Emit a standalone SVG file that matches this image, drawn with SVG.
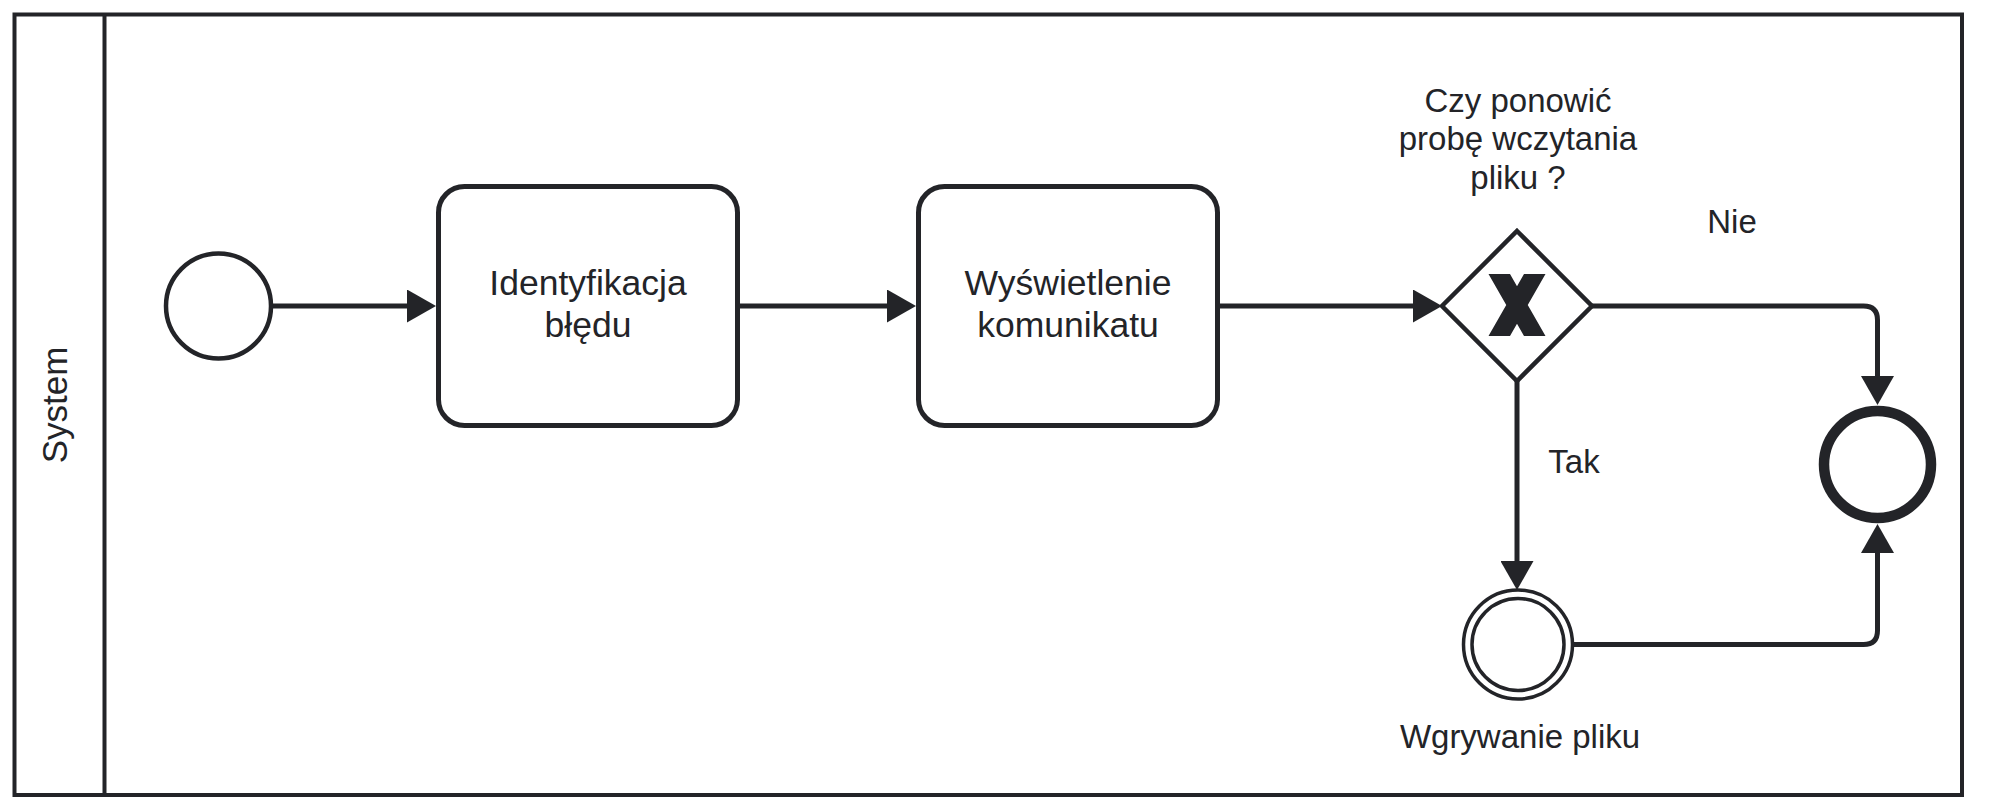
<svg xmlns="http://www.w3.org/2000/svg" width="2013" height="810" viewBox="0 0 2013 810">
  <style>
    .ln { fill: none; stroke: #232428; stroke-width: 5; stroke-linejoin: round; }
    .shape { fill: #ffffff; stroke: #232428; }
    .txt { font-family: "Liberation Sans", Arial, Helvetica, sans-serif; fill: #232428; text-anchor: middle; }
    .task { font-size: 35.5px; }
    .lbl { font-size: 33px; }
  </style>
  <defs>
    <marker id="arrow" markerUnits="userSpaceOnUse" viewBox="0 0 29 33" markerWidth="29" markerHeight="33" refX="19" refY="16.5" orient="auto">
      <path d="M0,0 L29,16.5 L0,33 Z" fill="#232428"/>
    </marker>
  </defs>
  <rect width="2013" height="810" fill="#ffffff"/>

  <g id="pool">
    <rect x="14.5" y="14.5" width="1947.5" height="780.5" fill="#ffffff" stroke="#232428" stroke-width="4"/>
    <line x1="104.5" y1="14.5" x2="104.5" y2="795" stroke="#232428" stroke-width="4"/>
    <text class="txt" font-size="35" transform="translate(67,405) rotate(-90)">System</text>
  </g>

  <g id="connectors">
    <path class="ln" d="M271,306 H426" marker-end="url(#arrow)"/>
    <path class="ln" d="M737.5,306 H906" marker-end="url(#arrow)"/>
    <path class="ln" d="M1217.5,306 H1432" marker-end="url(#arrow)"/>
    <path class="ln" d="M1592,306 H1863.5 Q1877.5,306 1877.5,320 V395" marker-end="url(#arrow)"/>
    <path class="ln" d="M1517,381 V580" marker-end="url(#arrow)"/>
    <path class="ln" d="M1572.5,644.5 H1863.5 Q1877.5,644.5 1877.5,630.5 V534" marker-end="url(#arrow)"/>
    <text class="txt lbl" x="1732" y="233">Nie</text>
    <text class="txt lbl" x="1574" y="473">Tak</text>
  </g>

  <g id="start">
    <circle class="shape" cx="218.5" cy="306" r="52.5" stroke-width="4.5"/>
  </g>

  <g id="task1">
    <rect class="shape" x="438.5" y="186.5" width="299" height="239" rx="26" ry="26" stroke-width="5"/>
    <text class="txt task" x="588" y="295">Identyfikacja</text>
    <text class="txt task" x="588" y="337">błędu</text>
  </g>

  <g id="task2">
    <rect class="shape" x="918.5" y="186.5" width="299" height="239" rx="26" ry="26" stroke-width="5"/>
    <text class="txt task" x="1068" y="295">Wyświetlenie</text>
    <text class="txt task" x="1068" y="337">komunikatu</text>
  </g>

  <g id="gateway">
    <polygon class="shape" points="1517,231 1592,306 1517,381 1442,306" stroke-width="4.5"/>
    <polygon points="1488.5,274 1510,274 1517,286.2 1524,274 1545.5,274 1527.75,305 1545.5,336 1524,336 1517,323.8 1510,336 1488.5,336 1506.25,305" fill="#232428"/>
    <text class="txt lbl" x="1518" y="111.5">Czy ponowić</text>
    <text class="txt lbl" x="1518" y="150">probę wczytania</text>
    <text class="txt lbl" x="1518" y="188.5">pliku ?</text>
  </g>

  <g id="intermediate">
    <circle class="shape" cx="1518" cy="644.5" r="54.5" stroke-width="3.5"/>
    <circle class="shape" cx="1518" cy="644.5" r="46" stroke-width="3.5"/>
    <text class="txt lbl" x="1520" y="748">Wgrywanie pliku</text>
  </g>

  <g id="end">
    <circle class="shape" cx="1877.5" cy="464.5" r="53.5" stroke-width="10.5"/>
  </g>
</svg>
